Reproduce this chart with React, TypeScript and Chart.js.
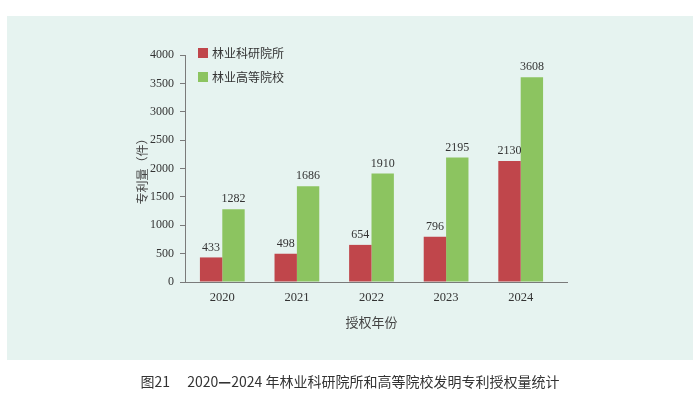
import React, { useEffect, useRef } from "react";
import { Chart, registerables } from "chart.js";

Chart.register(...registerables);

const years = ["2020", "2021", "2022", "2023", "2024"];
const researchInstitutes = [433, 498, 654, 796, 2130];
const universities = [1282, 1686, 1910, 2195, 3608];
const seriesNames = ["林业科研院所", "林业高等院校"];
const yTitle = "专利量（件）";
const xTitle = "授权年份";
const captionLead = "图21\u3000 2020";
const captionDash = "—";
const captionTail = "2024 年林业科研院所和高等院校发明专利授权量统计";

const RED = "#c0464b";
const GREEN = "#8cc460";
const SERIF = "'Liberation Serif', 'DejaVu Serif', serif";
const CJK = "'Noto Sans CJK SC', 'Noto Sans', sans-serif";

const overlayPlugin = {
  id: "overlay",
  afterDatasetsDraw(chart: any) {
    const ctx = chart.ctx;
    ctx.save();
    ctx.font = `12px ${SERIF}`;
    ctx.fillStyle = "#333";
    ctx.textAlign = "center";
    ctx.textBaseline = "bottom";
    chart.data.datasets.forEach((ds: any, di: number) => {
      const meta = chart.getDatasetMeta(di);
      meta.data.forEach((bar: any, i: number) => {
        ctx.fillText(String(ds.data[i]), bar.x, bar.y - 4);
      });
    });
    const area = chart.chartArea;
    ctx.strokeStyle = "#7a7a7a";
    ctx.lineWidth = 1;
    ctx.beginPath();
    ctx.moveTo(area.right, area.bottom + 0.5);
    ctx.lineTo(area.right + 10, area.bottom + 0.5);
    ctx.stroke();
    const colors = [RED, GREEN];
    const ys = [53, 77];
    ctx.textAlign = "left";
    ctx.textBaseline = "middle";
    ctx.font = `12px ${CJK}`;
    seriesNames.forEach((n, i) => {
      ctx.fillStyle = colors[i];
      ctx.fillRect(198, ys[i] - 5, 10, 10);
      ctx.fillStyle = "#333";
      ctx.fillText(n, 212, ys[i]);
    });
    ctx.restore();
  },
};

export default function App() {
  const ref = useRef<HTMLCanvasElement | null>(null);
  useEffect(() => {
    if (!ref.current) return;
    const chart = new Chart(ref.current, {
      type: "bar",
      data: {
        labels: years,
        datasets: [
          { label: seriesNames[0], data: researchInstitutes, backgroundColor: RED },
          { label: seriesNames[1], data: universities, backgroundColor: GREEN },
        ],
      },
      options: {
        animation: false,
        responsive: false,
        devicePixelRatio: 1,
        layout: { padding: { left: 0, right: 142, top: 55, bottom: 0 } },
        plugins: { legend: { display: false }, tooltip: { enabled: false } },
        datasets: { bar: { barPercentage: 1, categoryPercentage: 0.6 } },
        scales: {
          x: {
            grid: { display: false, drawTicks: false },
            border: { display: true, color: "#7a7a7a" },
            ticks: { color: "#333", font: { family: SERIF, size: 12.5 }, padding: 8 },
            title: {
              display: true,
              text: xTitle,
              color: "#444",
              font: { family: CJK, size: 13 },
              padding: { top: 0, bottom: 66 },
            },
            afterFit: (s: any) => {
              s.height = 114;
            },
          },
          y: {
            min: 0,
            max: 4000,
            grid: { display: true, drawOnChartArea: false, drawTicks: true, tickLength: 5, color: "#7a7a7a" },
            border: { display: true, color: "#7a7a7a" },
            ticks: {
              stepSize: 500,
              color: "#333",
              font: { family: SERIF, size: 12 },
              padding: 6,
              callback: (v: any) => String(v),
            },
            title: {
              display: true,
              text: yTitle,
              color: "#444",
              font: { family: CJK, size: 12 },
              padding: { top: 135, bottom: 0 },
            },
            afterFit: (s: any) => {
              s.width = 185;
            },
          },
        },
      },
      plugins: [overlayPlugin],
    });
    return () => chart.destroy();
  }, []);

  return (
    <div style={{ position: "absolute", left: 0, top: 0, width: 700, height: 396, background: "#fff", overflow: "hidden" }}>
      <div style={{ position: "absolute", left: 7, top: 16, width: 686, height: 344, background: "#e6f3f0" }} />
      <canvas ref={ref} width={700} height={396} style={{ position: "absolute", left: 0, top: 0, width: 700, height: 396 }} />
      <div
        style={{
          position: "absolute",
          left: 0,
          width: 700,
          top: 371,
          textAlign: "center",
          fontFamily: CJK,
          fontSize: 14,
          color: "#333",
          lineHeight: "20px",
          whiteSpace: "pre",
        }}
      >
        {captionLead}
        <span style={{ fontWeight: 900 }}>{captionDash}</span>
        {captionTail}
      </div>
    </div>
  );
}
